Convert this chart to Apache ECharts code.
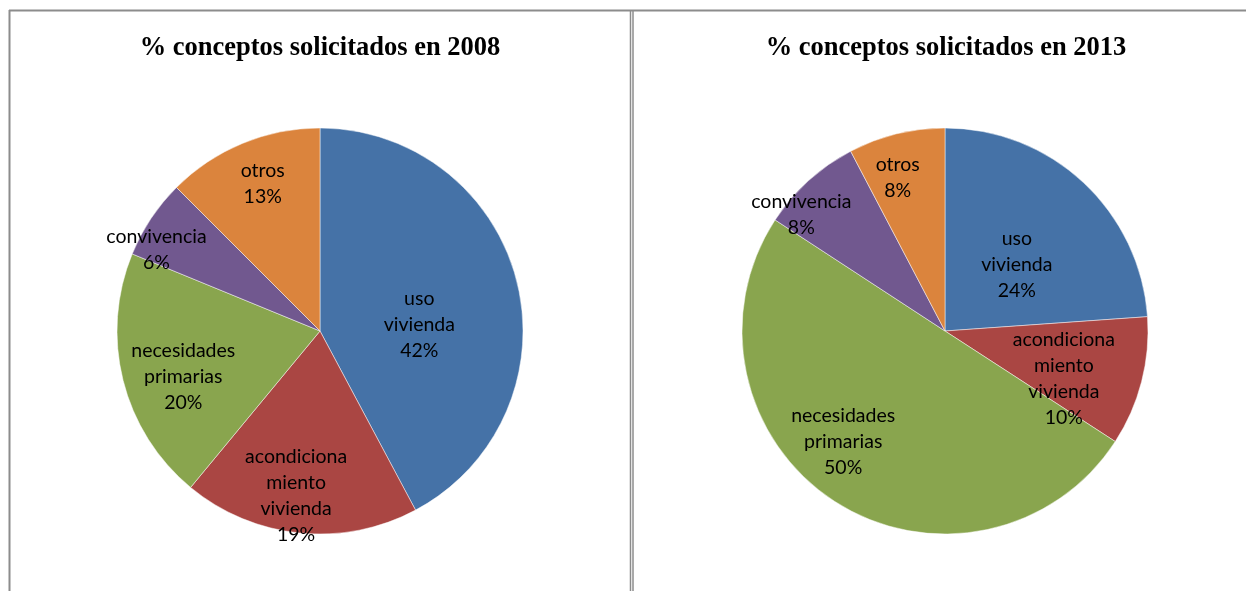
<!DOCTYPE html>
<html>
	<head>
		<meta charset="UTF-8">
		<title>% conceptos solicitados</title>
		<script type="text/javascript" src="https://cdn.jsdelivr.net/npm/echarts@6/dist/echarts.min.js"></script>
		<style type="text/css">
			html, body {
				margin: 0;
				padding: 0;
				background: #fff;
			}
			#main {
				width: 1246px;
				height: 591px;
			}
		</style>
	</head>
	<body>
		<div id="main"></div>
		<script type="text/javascript">
			// datos
			var categorias = ['uso vivienda', 'acondicionamiento vivienda', 'necesidades primarias', 'convivencia', 'otros'];
			var etiquetas = ['uso\nvivienda', 'acondiciona\nmiento\nvivienda', 'necesidades\nprimarias', 'convivencia', 'otros'];
			var titulos = ['% conceptos solicitados en 2008', '% conceptos solicitados en 2013'];
			var valores2008 = [42.2, 18.8, 20.2, 6.3, 12.5];
			var valores2013 = [23.9, 10.3, 50.1, 8.1, 7.7];

			var colores = ['#4572A7', '#AA4643', '#89A54E', '#71588F', '#DB843D'];
			var centros = [[320, 331], [945, 331]];
			var radio = 203;
			// posicion de etiquetas tipo Excel: fraccion del radio y desvio angular
			var etqFrac = [[0.49, 0.82, 0.71, 0.90, 0.78], [0.48, 0.63, 0.74, 0.91, 0.79]];
			var etqGiro = [[10.6, 2.5, -4.4, -7.2, 1.3], [4.5, 7.2, 9.6, -8.8, -3.3]];
			var series = [valores2008, valores2013];

			var chart = echarts.init(document.getElementById('main'));

			function armarDatos(vals) {
				return categorias.map(function(c, i) {
					return { name: c, value: vals[i], itemStyle: { color: colores[i] } };
				});
			}

			function posEtiqueta(s) {
				return function(params) {
					var vals = series[s];
					var total = vals.reduce(function(a, b) { return a + b; }, 0);
					var acum = 0;
					for (var i = 0; i < params.dataIndex; i++) acum += vals[i];
					var medio = (acum + vals[params.dataIndex] / 2) / total * 360 + etqGiro[s][params.dataIndex];
					var rad = medio * Math.PI / 180;
					var d = radio * etqFrac[s][params.dataIndex];
					return {
						x: centros[s][0] + d * Math.sin(rad),
						y: centros[s][1] - d * Math.cos(rad),
						align: 'center',
						verticalAlign: 'middle'
					};
				};
			}

			function serie(s) {
				return {
					type: 'pie',
					center: centros[s],
					radius: radio,
					startAngle: 90,
					clockwise: true,
					animation: false,
					silent: true,
					data: armarDatos(series[s]),
					itemStyle: {
						borderColor: 'rgba(255,255,255,0.6)',
						borderWidth: 0.8
					},
					label: {
						show: true,
						position: 'inside',
						color: '#000',
						fontFamily: 'Lato',
						fontSize: 19.5,
						lineHeight: 26,
						align: 'center',
						formatter: function(p) {
							return etiquetas[p.dataIndex] + '\n' + Math.round(p.percent) + '%';
						}
					},
					labelLine: { show: false },
					labelLayout: posEtiqueta(s)
				};
			}

			var estiloTitulo = { fontFamily: 'Liberation Serif', fontWeight: 'bold', fontSize: 26.5, color: '#000' };

			chart.setOption({
				backgroundColor: '#fff',
				title: [{
					text: titulos[0],
					left: 320,
					top: 35,
					padding: 0,
					textAlign: 'center',
					textStyle: estiloTitulo
				}, {
					text: titulos[1],
					left: 946,
					top: 35,
					padding: 0,
					textAlign: 'center',
					textStyle: estiloTitulo
				}],
				graphic: [
					{ type: 'line', shape: { x1: 9, y1: 10.5, x2: 1246, y2: 10.5 }, style: { stroke: '#8c8c8c', lineWidth: 2 } },
					{ type: 'line', shape: { x1: 9.5, y1: 10, x2: 9.5, y2: 591 }, style: { stroke: '#8c8c8c', lineWidth: 2 } },
					{ type: 'line', shape: { x1: 630.5, y1: 10, x2: 630.5, y2: 591 }, style: { stroke: '#8c8c8c', lineWidth: 1.5 } },
					{ type: 'line', shape: { x1: 633, y1: 10, x2: 633, y2: 591 }, style: { stroke: '#8c8c8c', lineWidth: 1.5 } }
				],
				series: [serie(0), serie(1)]
			});
		</script>
	</body>
</html>
